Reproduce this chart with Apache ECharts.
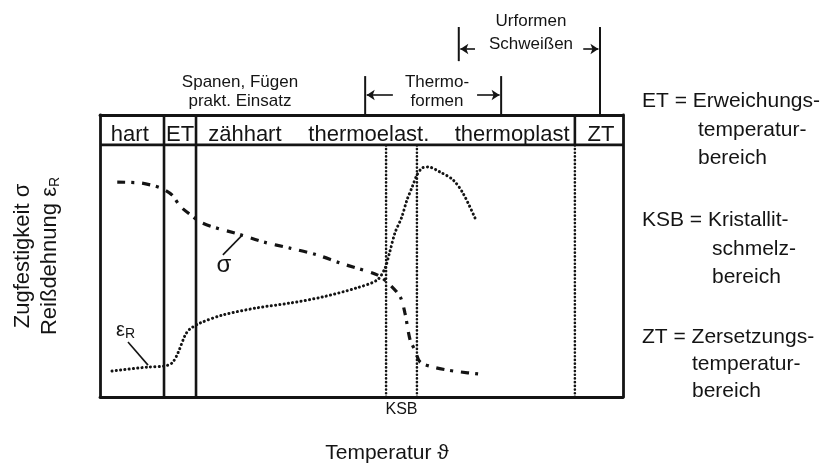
<!DOCTYPE html>
<html>
<head>
<meta charset="utf-8">
<script src="https://cdn.jsdelivr.net/npm/echarts@6/dist/echarts.min.js"></script>
<style>html,body{margin:0;padding:0;background:#fff;}#c{width:834px;height:467px;}</style>
</head>
<body>
<div id="c"></div>
<script>
// Relative temperature (0..100) and relative property value (0..100)
const sigmaX = [3.3, 7.7, 10.5, 12.0, 13.8, 15.3, 17.6, 19.1, 21.6, 26.4, 31.2, 36.3, 41.5, 45.9, 49.1, 53.0, 55.1, 57.4, 58.3, 59.3, 60.2, 61.2, 63.7, 66.3, 68.8, 72.3];
const sigmaY = [76.2, 75.9, 74.8, 73.8, 71.6, 67.7, 64.2, 62.1, 60.3, 57.8, 55.0, 52.8, 50.4, 47.5, 45.7, 43.3, 40.4, 35.5, 29.8, 20.2, 16.7, 12.4, 10.6, 9.6, 8.9, 8.2];
const epsX = [2.3, 9.0, 12.4, 13.8, 14.9, 16.3, 17.2, 19.1, 23.5, 30.0, 36.3, 42.6, 49.1, 53.0, 54.5, 55.4, 56.4, 57.7, 58.7, 59.7, 60.6, 61.6, 62.7, 65.0, 67.5, 69.4, 71.7];
const epsY = [9.2, 10.6, 11.0, 12.1, 15.6, 22.0, 24.1, 26.2, 29.1, 31.6, 33.3, 35.5, 38.7, 41.5, 45.7, 51.4, 58.2, 63.8, 69.9, 74.5, 78.7, 81.2, 81.6, 79.8, 77.0, 72.3, 63.5];

// Region boundaries on the temperature axis
const solidBounds = [12.24, 18.36];     // hart | ET | zähhart
const ksbBounds = [54.7, 60.6];         // Kristallitschmelzbereich
const ztBound = 90.8;                   // thermoplast | ZT
const headerLine = 89.4;                // bottom of the header row
const headerLabels = ['hart', 'ET', 'zähhart', 'thermoelast.', 'thermoplast', 'ZT'];
const headerLabelX = [5.7, 15.3, 27.7, 51.4, 78.8, 95.8];

// Processing-range brackets above the chart
const thermoBars = [50.7, 76.7];
const urformBars = [68.6, 95.6];

const FONT = '"Liberation Sans", Arial, Helvetica, sans-serif';
const INK = '#141414';

function seg(p, q, style) {
  return {
    type: 'line', data: [p, q], symbol: 'none', clip: false, silent: true,
    lineStyle: Object.assign({color: INK, width: 2.6}, style || {}), z: 3
  };
}
const dotted = {width: 2.6, type: [0.1, 3.6], cap: 'round'};

const series = [];
series.push({
  type: 'line', name: 'sigma', data: sigmaX.map((x, i) => [x, sigmaY[i]]),
  symbol: 'none', smooth: 0.3, clip: false, z: 5,
  lineStyle: {color: INK, width: 3.2, type: [8, 6, 3, 8]}
});
series.push({
  type: 'line', name: 'eps', data: epsX.map((x, i) => [x, epsY[i]]),
  symbol: 'none', smooth: 0.3, clip: false, z: 5,
  lineStyle: {color: INK, width: 3, type: [0.1, 4.2], cap: 'round'}
});
// header separator
series.push(seg([0, headerLine], [100, headerLine]));
// solid region boundaries
solidBounds.forEach(x => series.push(seg([x, 0], [x, 100])));
// ZT boundary: solid in header, dotted below
series.push(seg([ztBound, headerLine], [ztBound, 100]));
series.push(seg([ztBound, 0], [ztBound, headerLine], dotted));
ksbBounds.forEach(x => series.push(seg([x, 0], [x, headerLine], dotted)));
// bracket bars
thermoBars.forEach(x => series.push(seg([x, 100], [x, 113.8], {width: 2})));
series.push(seg([urformBars[0], 119.1], [urformBars[0], 131.2], {width: 2}));
series.push(seg([urformBars[1], 100], [urformBars[1], 131.2], {width: 2}));
// leader lines for curve labels
series.push(seg([27.2, 57.4], [23.5, 50.4], {width: 1.6}));
series.push(seg([5.35, 19.5], [9.18, 11.3], {width: 1.6}));
// arrows
series.push({
  type: 'lines', coordinateSystem: 'cartesian2d', clip: false, silent: true, z: 4,
  symbol: ['none', 'arrow'], symbolSize: 8,
  lineStyle: {color: INK, width: 1.6, opacity: 1, curveness: 0},
  data: [
    {coords: [[56.0, 107.1], [thermoBars[0] + 0.3, 107.1]]},
    {coords: [[72.1, 107.1], [thermoBars[1] - 0.3, 107.1]]},
    {coords: [[71.7, 123.4], [urformBars[0] + 0.3, 123.4]]},
    {coords: [[92.4, 123.4], [urformBars[1] - 0.3, 123.4]]}
  ]
});

function axisX(pos) {
  return {type: 'value', min: 0, max: 100, position: pos, show: true,
    axisLine: {show: true, onZero: false, lineStyle: {color: INK, width: 2.8}},
    axisTick: {show: false}, axisLabel: {show: false}, splitLine: {show: false}};
}
function axisY(pos) {
  return {type: 'value', min: 0, max: 100, position: pos, show: true,
    axisLine: {show: true, onZero: false, lineStyle: {color: INK, width: 2.8}},
    axisTick: {show: false}, axisLabel: {show: false}, splitLine: {show: false}};
}

function txt(x, y, text, size, align, extra) {
  return Object.assign({
    type: 'text', x: x, y: y, silent: true, z: 10,
    style: {text: text, fontSize: size, fontFamily: FONT, fill: INK,
      align: align || 'center', verticalAlign: 'middle',
      textAlign: align || 'center', textVerticalAlign: 'middle'}
  }, extra || {});
}

const chart = echarts.init(document.getElementById('c'), null, {renderer: 'canvas'});
chart.setOption({
  animation: false,
  backgroundColor: '#fff',
  grid: {left: 100, top: 115, width: 523, height: 282, containLabel: false},
  xAxis: [axisX('bottom'), axisX('top')],
  yAxis: [axisY('left'), axisY('right')],
  series: series
});

// texts anchored to the data coordinate system
const g = [];
headerLabels.forEach((t, i) => {
  const p = chart.convertToPixel({gridIndex: 0}, [headerLabelX[i], 92.9]);
  g.push(txt(p[0], p[1], t, 22));
});
const ksb = chart.convertToPixel({gridIndex: 0}, [(ksbBounds[0] + ksbBounds[1]) / 2, 0]);
g.push(txt(ksb[0], ksb[1] + 13, 'KSB', 16));
g.push(txt(224, 265, 'σ', 24));
g.push({type: 'text', x: 116, y: 330, silent: true, z: 10,
  style: {text: '{a|ε}{s|R}', fontFamily: FONT, fill: INK, align: 'left', verticalAlign: 'middle',
    rich: {a: {fontSize: 20, fontFamily: FONT, lineHeight: 22, verticalAlign: 'middle'},
           s: {fontSize: 14, fontFamily: FONT, lineHeight: 22, verticalAlign: 'bottom'}}}});

// top annotations
g.push(txt(240, 82, 'Spanen, Fügen', 17));
g.push(txt(240, 101, 'prakt. Einsatz', 17));
g.push(txt(437, 82, 'Thermo-', 17));
g.push(txt(437, 101, 'formen', 17));
g.push(txt(531, 21, 'Urformen', 17));
g.push(txt(531, 44, 'Schweißen', 17));

// axis titles
g.push(txt(387, 453, 'Temperatur ϑ', 21));
g.push(txt(23, 256, 'Zugfestigkeit σ', 22, 'center', {rotation: Math.PI / 2}));
g.push({type: 'text', x: 50, y: 256, rotation: Math.PI / 2, silent: true, z: 10,
  style: {text: '{a|Reißdehnung ε}{s|R}', fontFamily: FONT, fill: INK, align: 'center', verticalAlign: 'middle',
    rich: {a: {fontSize: 22, fontFamily: FONT, lineHeight: 24, verticalAlign: 'middle'},
           s: {fontSize: 14, fontFamily: FONT, lineHeight: 24, verticalAlign: 'bottom'}}}});

// legend on the right
const L = 642;
g.push(txt(L, 101, 'ET = Erweichungs-', 21, 'left'));
g.push(txt(698, 130, 'temperatur-', 21, 'left'));
g.push(txt(698, 158, 'bereich', 21, 'left'));
g.push(txt(L, 220, 'KSB = Kristallit-', 21, 'left'));
g.push(txt(712, 249, 'schmelz-', 21, 'left'));
g.push(txt(712, 277, 'bereich', 21, 'left'));
g.push(txt(L, 337, 'ZT = Zersetzungs-', 21, 'left'));
g.push(txt(692, 364, 'temperatur-', 21, 'left'));
g.push(txt(692, 391, 'bereich', 21, 'left'));

chart.setOption({graphic: {elements: g}});
</script>
</body>
</html>
